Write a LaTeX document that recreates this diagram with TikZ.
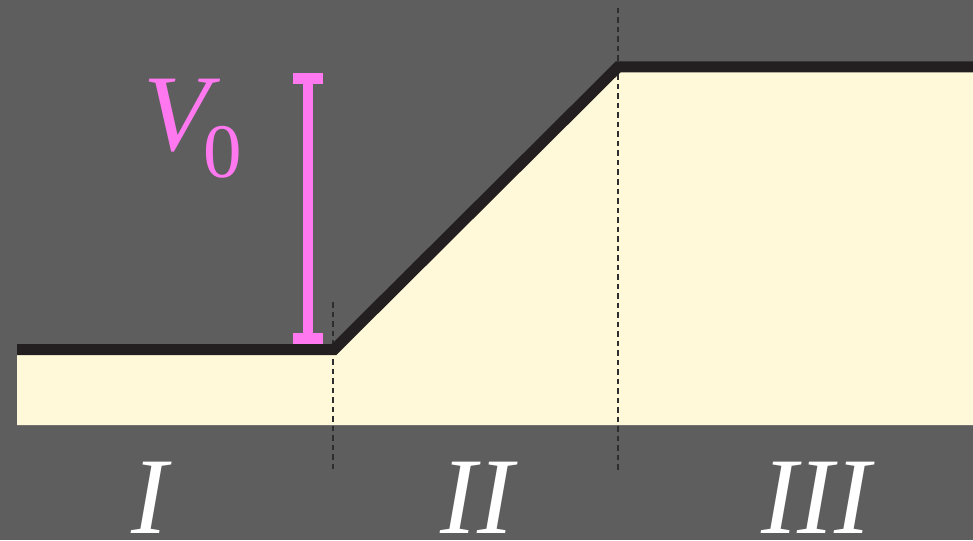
\documentclass[tikz,border=0pt]{standalone}
\usepackage{fontspec}
\setmainfont{Liberation Serif}
\usetikzlibrary{calc}
\definecolor{bgGray}{HTML}{5E5E5E}
\definecolor{stepCream}{HTML}{FFF9D9}
\definecolor{edgeDark}{HTML}{231F20}
\definecolor{barPink}{HTML}{FF78F0}
\definecolor{dashDark}{HTML}{2E2E2E}

\begin{document}
\begin{tikzpicture}[x=1pt, y=-1pt,
    region/.style={font=\fontsize{109}{120}\selectfont\itshape, text=white,
                   anchor=base, inner sep=0pt, text depth=0pt},
    vlabel/.style={text=barPink, anchor=base west, inner sep=0pt},
    divider/.style={dashDark, line width=1.8pt, dash pattern=on 5.5pt off 4pt},
    edgeline/.style={edgeDark, line width=11pt, line join=miter},
  ]
    \fill[bgGray] (0,0) rectangle (973,540);
    \useasboundingbox (0,0) rectangle (973,540);

    \coordinate (startL) at (17,349.5);
    \coordinate (kinkL)  at (334,349.5);
    \coordinate (kinkR)  at (618,67);
    \coordinate (endR)   at (973,67);

    \fill[stepCream] (startL) -- (kinkL) -- (kinkR) -- (endR)
      -- (973,425) -- (17,425) -- cycle;

    \draw[divider] (333,302) -- (333,472);
    \draw[divider] (618,8) -- (618,472);

    \draw[edgeline] (startL) -- (kinkL) -- (kinkR) -- (endR);

    \coordinate (barTop) at (308,73);
    \coordinate (barBot) at (308,344);
    \fill[barPink] ($(barTop)+(-5.25,0)$) rectangle ($(barBot)+(5.25,0)$);
    \fill[barPink] ($(barTop)+(-15,0)$) rectangle ($(barTop)+(15,11)$);
    \fill[barPink] ($(barBot)+(-15,-11)$) rectangle ($(barBot)+(15,0)$);

    \node[vlabel, font=\fontsize{109}{120}\selectfont] (vlab) at (143,150)
      {\itshape V\kern-6pt\raisebox{-27pt}{\upshape\fontsize{77}{90}\selectfont 0}};

    \node[region] (r1) at (150,533) {I};
    \node[region] (r2) at (477,533) {II};
    \node[region] (r3) at (816,533) {III};
  \end{tikzpicture}
\end{document}
